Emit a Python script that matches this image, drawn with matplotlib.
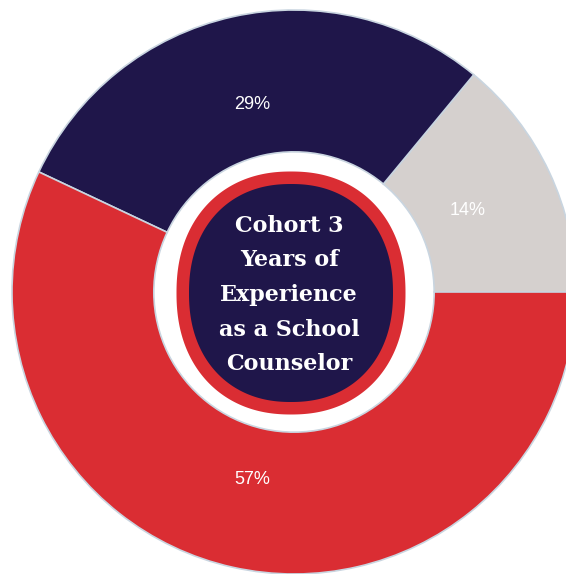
import numpy as np
import matplotlib
matplotlib.use('Agg')
import matplotlib.pyplot as plt
from matplotlib.patches import Polygon

# Share of cohort by years as a school counselor
labels = ['14%', '29%', '57%']
shares = [14, 29, 57]
colors = ['#d5d0ce', '#1f164a', '#da2d33']
title_text = 'Cohort 3\nYears of\nExperience\nas a School\nCounselor'

W, H = 566, 574
fig = plt.figure(figsize=(W / 100, H / 100), dpi=100)
ax = fig.add_axes([0, 0, 1, 1])

cx, cy = 294, H - 292   # donut centre in pixel units
R = 282

wedges, texts, autotexts = ax.pie(
    shares, colors=colors, startangle=0, counterclock=True,
    center=(cx, cy), radius=R, autopct='%1.0f%%', pctdistance=0.68,
    wedgeprops=dict(width=R * 0.503, edgecolor='#c9d5e0', linewidth=1.2),
    textprops=dict(color='white', fontsize=13, family='Liberation Sans'))


def squircle(x0, y0, a, b, n=2.2, **kw):
    t = np.linspace(0, 2 * np.pi, 400)
    c, s = np.cos(t), np.sin(t)
    xs = x0 + a * np.sign(c) * np.abs(c) ** (2 / n)
    ys = y0 + b * np.sign(s) * np.abs(s) ** (2 / n)
    return Polygon(np.column_stack([xs, ys]), closed=True, **kw)


# centre badge: red rounded shape with navy rounded shape inside
bx, by = 291, H - 293
ax.add_patch(squircle(bx, by, 114.5, 121.5, facecolor='#da2d33',
                      edgecolor='none', zorder=3))
ax.add_patch(squircle(bx, by, 102, 109, facecolor='#1f164a',
                      edgecolor='none', zorder=4))

ax.text(289, H - 295, title_text, ha='center', va='center', color='white',
        fontsize=16, fontweight='bold', family='DejaVu Serif',
        linespacing=1.74, zorder=5)

ax.set_xlim(0, W)
ax.set_ylim(0, H)
ax.set_aspect('equal')
ax.axis('off')

fig.savefig('out.png', dpi=100, facecolor='white')
